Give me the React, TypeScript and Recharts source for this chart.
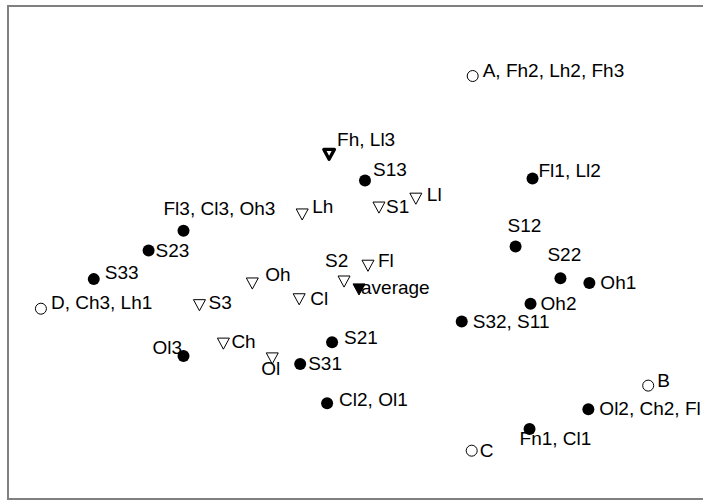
import { ScatterChart, Scatter, XAxis, YAxis, ReferenceArea } from 'recharts';

// correspondence-analysis style map: dimension 1 (x) vs dimension 2 (y)
const openCircles = [
  { name: 'A, Fh2, Lh2, Fh3', x: 1.16, y: 1.79 },
  { name: 'D, Ch3, Lh1', x: -3.17, y: -0.57 },
  { name: 'B', x: 2.92, y: -1.35 },
  { name: 'C', x: 1.15, y: -2.01 },
];

const filledCircles = [
  { name: 'S13', x: 0.08, y: 0.73 },
  { name: 'Fl1, Ll2', x: 1.76, y: 0.75 },
  { name: 'Fl3, Cl3, Oh3', x: -1.74, y: 0.22 },
  { name: 'S23', x: -2.09, y: 0.02 },
  { name: 'S33', x: -2.64, y: -0.27 },
  { name: 'S12', x: 1.59, y: 0.06 },
  { name: 'S22', x: 2.04, y: -0.26 },
  { name: 'Oh1', x: 2.33, y: -0.31 },
  { name: 'Oh2', x: 1.74, y: -0.52 },
  { name: 'S32, S11', x: 1.05, y: -0.7 },
  { name: 'S21', x: -0.25, y: -0.91 },
  { name: 'S31', x: -0.57, y: -1.13 },
  { name: 'Ol3', x: -1.74, y: -1.05 },
  { name: 'Cl2, Ol1', x: -0.3, y: -1.53 },
  { name: 'Ol2, Ch2, Fl', x: 2.32, y: -1.59 },
  { name: 'Fn1, Cl1', x: 1.73, y: -1.79 },
];

const openTriangles = [
  { name: 'Fh, Ll3', x: -0.28, y: 1.0 },
  { name: 'Lh', x: -0.55, y: 0.39 },
  { name: 'S1', x: 0.22, y: 0.46 },
  { name: 'Ll', x: 0.59, y: 0.55 },
  { name: 'Fl', x: 0.11, y: -0.13 },
  { name: 'S2', x: -0.13, y: -0.29 },
  { name: 'Cl', x: -0.58, y: -0.47 },
  { name: 'Oh', x: -1.05, y: -0.31 },
  { name: 'S3', x: -1.58, y: -0.53 },
  { name: 'Ch', x: -1.34, y: -0.92 },
  { name: 'Ol', x: -0.85, y: -1.07 },
];

const averagePoint = [{ name: 'average', x: 0.02, y: -0.37 }];

// label placement (px from marker centre to text start / text middle)
const labelOffset: Record<string, [number, number]> = {
  'A, Fh2, Lh2, Fh3': [10, -6],
  'D, Ch3, Lh1': [10, -6],
  B: [9, -5],
  C: [8, 0],
  S13: [8, -11],
  'Fl1, Ll2': [6, -8],
  'Fl3, Cl3, Oh3': [-20, -22],
  S23: [7, 0],
  S33: [11, -7],
  S12: [-8, -21],
  S22: [-13, -24],
  Oh1: [11, -1],
  Oh2: [10, 0],
  'S32, S11': [11, 0],
  S21: [12, -5],
  S31: [8, 0],
  Ol3: [-31, -9],
  'Cl2, Ol1': [12, -4],
  'Ol2, Ch2, Fl': [11, -1],
  'Fn1, Cl1': [-10, 10],
  'Fh, Ll3': [8, -14],
  Lh: [10, -8],
  S1: [7, -1],
  Ll: [11, -4],
  Fl: [10, -5],
  S2: [-19, -21],
  average: [2, -1],
  Cl: [11, 0],
  Oh: [13, -9],
  S3: [9, -2],
  Ch: [8, -2],
  Ol: [-11, 10],
};

const FONT = '"Liberation Sans", Arial, sans-serif';
// x range runs past the right edge of the page, so the frame's right side is cut off
const X_DOMAIN: [number, number] = [-3.5, 3.64];
const Y_DOMAIN: [number, number] = [-2.5, 2.5];

interface ShapeProps {
  cx?: number;
  cy?: number;
  payload?: { name: string };
}

function Label({ cx, cy, name }: { cx: number; cy: number; name: string }) {
  const [dx, dy] = labelOffset[name] ?? [8, 0];
  return (
    <text x={cx + dx} y={cy + dy} dominantBaseline="central" fontSize={19} fontFamily={FONT} fill="#000">
      {name}
    </text>
  );
}

function downTriangle(cx: number, cy: number, s: number) {
  return `${cx - s},${cy - s * 0.85} ${cx + s},${cy - s * 0.85} ${cx},${cy + s}`;
}

function OpenCircle({ cx = 0, cy = 0, payload }: ShapeProps) {
  return (
    <g>
      <circle cx={cx} cy={cy} r={5.5} fill="#fff" stroke="#000" strokeWidth={1} />
      <Label cx={cx} cy={cy} name={payload?.name ?? ''} />
    </g>
  );
}

function FilledCircle({ cx = 0, cy = 0, payload }: ShapeProps) {
  return (
    <g>
      <circle cx={cx} cy={cy} r={6} fill="#000" />
      <Label cx={cx} cy={cy} name={payload?.name ?? ''} />
    </g>
  );
}

function OpenTriangle({ cx = 0, cy = 0, payload }: ShapeProps) {
  // several points overlap here, so the outline reads as a heavy triangle
  const bold = payload?.name === 'Fh, Ll3';
  return (
    <g>
      <polygon
        points={downTriangle(cx, cy, bold ? 5.3 : 6)}
        fill="none"
        stroke="#000"
        strokeWidth={bold ? 3.3 : 1}
        strokeLinejoin="round"
      />
      <Label cx={cx} cy={cy} name={payload?.name ?? ''} />
    </g>
  );
}

function FilledTriangle({ cx = 0, cy = 0, payload }: ShapeProps) {
  return (
    <g>
      <polygon points={downTriangle(cx, cy, 6)} fill="#000" stroke="#000" strokeWidth={1} />
      <Label cx={cx} cy={cy} name={payload?.name ?? ''} />
    </g>
  );
}

export default function App() {
  return (
    <div style={{ position: 'absolute', left: 0, top: 0, width: 703, height: 500, overflow: 'hidden', background: '#fff' }}>
      <ScatterChart width={720} height={500} margin={{ top: 6, right: 0, bottom: 1, left: 8 }}>
        <XAxis type="number" dataKey="x" domain={X_DOMAIN} hide />
        <YAxis type="number" dataKey="y" domain={Y_DOMAIN} hide />
        <ReferenceArea
          x1={X_DOMAIN[0]}
          x2={X_DOMAIN[1]}
          y1={Y_DOMAIN[0]}
          y2={Y_DOMAIN[1]}
          fill="none"
          stroke="#808080"
          strokeWidth={2}
        />
        <Scatter data={openCircles} shape={OpenCircle} isAnimationActive={false} />
        <Scatter data={openTriangles} shape={OpenTriangle} isAnimationActive={false} />
        <Scatter data={averagePoint} shape={FilledTriangle} isAnimationActive={false} />
        <Scatter data={filledCircles} shape={FilledCircle} isAnimationActive={false} />
      </ScatterChart>
    </div>
  );
}
